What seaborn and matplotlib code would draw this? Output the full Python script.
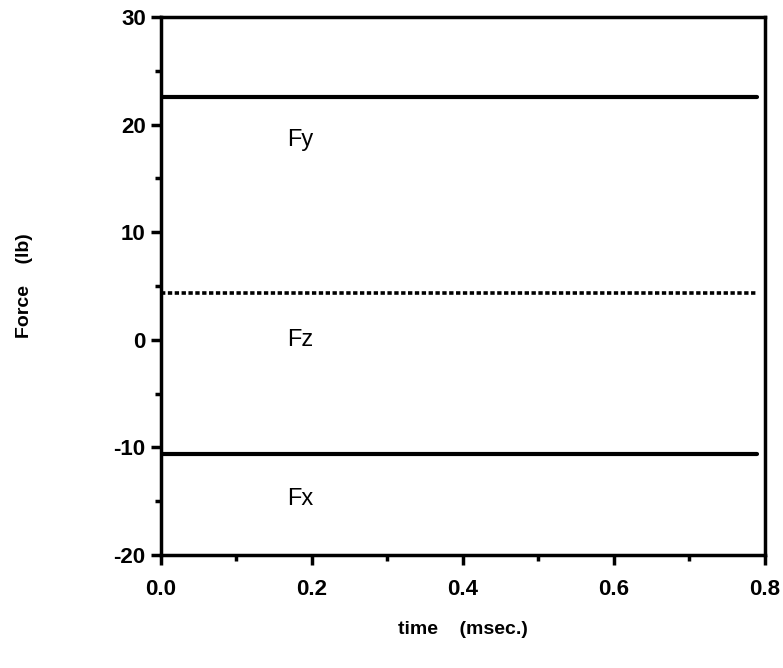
import matplotlib
matplotlib.use("Agg")
import matplotlib.pyplot as plt
from matplotlib.ticker import MultipleLocator, FormatStrFormatter
import pandas as pd
import seaborn as sns

# Measured force components over the run (constant readings)
time_ms = [0.0, 0.79]
force_fy = [22.6, 22.6]
force_fz = [4.35, 4.35]
force_fx = [-10.6, -10.6]

series_names = ["Fy", "Fz", "Fx"]
label_pos = {"Fy": (0.185, 18.6), "Fz": (0.185, 0.0), "Fx": (0.185, -14.8)}

sns.set_theme(style="white")
plt.rcParams["font.family"] = ["Liberation Sans", "DejaVu Sans"]
plt.rcParams["axes.unicode_minus"] = False

df = pd.DataFrame({
    "time": time_ms * 3,
    "force": force_fy + force_fz + force_fx,
    "component": ["Fy"] * 2 + ["Fz"] * 2 + ["Fx"] * 2,
})

fig = plt.figure(figsize=(7.83, 6.68), dpi=100)
ax = fig.add_axes([0.2056, 0.169, 0.7714, 0.8056])

for name in series_names:
    sub = df[df["component"] == name]
    ls = (0, (1.2, 0.7)) if name == "Fz" else "-"
    lw = 2.6 if name == "Fz" else 3.0
    sns.lineplot(data=sub, x="time", y="force", ax=ax, color="black",
                 linestyle=ls, linewidth=lw, legend=False)
    x, y = label_pos[name]
    ax.text(x, y, name, fontsize=17, ha="center", va="center", color="black")

ax.set_xlim(0.0, 0.8)
ax.set_ylim(-20, 30)
ax.xaxis.set_major_locator(MultipleLocator(0.2))
ax.xaxis.set_minor_locator(MultipleLocator(0.1))
ax.yaxis.set_major_locator(MultipleLocator(10))
ax.yaxis.set_minor_locator(MultipleLocator(5))
ax.xaxis.set_major_formatter(FormatStrFormatter("%.1f"))

for sp in ax.spines.values():
    sp.set_color("black")
    sp.set_linewidth(2.5)

ax.tick_params(axis="both", which="major", direction="out", length=7, width=2.5,
               labelsize=16, color="black", labelcolor="black", pad=4,
               bottom=True, left=True, top=False, right=False)
ax.tick_params(axis="x", which="major", pad=10)
ax.tick_params(axis="both", which="minor", direction="out", length=4, width=2.5,
               color="black", bottom=True, left=True, top=False, right=False)
for lbl in ax.get_xticklabels() + ax.get_yticklabels():
    lbl.set_fontweight("bold")

ax.set_xlabel("time    (msec.)", fontsize=14, fontweight="bold", color="black",
              labelpad=15)
ax.set_ylabel("Force    (lb)", fontsize=14, fontweight="bold", color="black",
              labelpad=58)
ax.grid(False)

fig.savefig("out.png", dpi=100, facecolor="white")
